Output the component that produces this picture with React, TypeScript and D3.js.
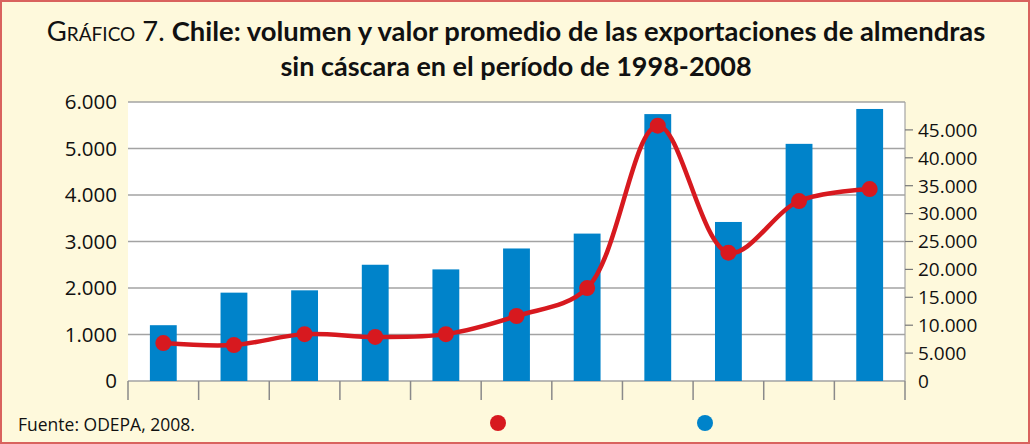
import React from 'react';
import * as d3 from 'd3';

// Chile: almond export volume (bars, left axis) and average value (line, right axis)
const years = ['1998', '1999', '2000', '2001', '2002', '2003', '2004', '2005', '2006', '2007', '2008'];
const volumen = [1200, 1900, 1950, 2500, 2400, 2850, 3170, 5740, 3420, 5100, 5850];
const valor = [6800, 6450, 8400, 7900, 8400, 11650, 16650, 45750, 23000, 32250, 34400];
const leftTicks = [0, 1000, 2000, 3000, 4000, 5000, 6000];
const rightTicks = [0, 5000, 10000, 15000, 20000, 25000, 30000, 35000, 40000, 45000];

const W = 1030;
const H = 444;
const plot = { left: 128, right: 905, top: 102, bottom: 381 };

const locale = d3.formatLocale({ decimal: ',', thousands: '.', grouping: [3], currency: ['$', ''] });
const fmt = locale.format(',');

const BLUE = '#0083ca';
const RED = '#d7191f';
const GRID = '#a3a3a3';
const FONT = '"Open Sans", sans-serif';

export default function App() {
  const x = d3.scaleBand().domain(years).range([plot.left, plot.right]);
  const yL = d3.scaleLinear().domain([0, 6000]).range([plot.bottom, plot.top]);
  const yR = d3.scaleLinear().domain([0, 50000]).range([plot.bottom, plot.top]);
  const barW = x.bandwidth() * 0.38;
  const cx = (d: string) => (x(d) as number) + x.bandwidth() / 2;

  const line = d3
    .line<number>()
    .x((_, i) => cx(years[i]))
    .y((d) => yR(d))
    .curve(d3.curveCatmullRom);

  // category separators under the axis
  const bounds = years.map((d) => x(d) as number).concat([plot.right]);

  return (
    <svg width={W} height={H} style={{ position: 'absolute', left: 0, top: 0 }}>
      <rect x={1} y={1} width={W - 2} height={H - 2} fill="#fef9dc" stroke="#d9635e" strokeWidth={2} />

      <text x={516} y={41} textAnchor="middle" fontFamily="Lato, sans-serif" fontSize={27.4} fill="#111">
        <tspan style={{ fontVariant: 'small-caps' }}>Gráfico 7. </tspan>
        <tspan fontWeight="bold">Chile: volumen y valor promedio de las exportaciones de almendras</tspan>
      </text>
      <text x={516} y={76} textAnchor="middle" fontFamily="Lato, sans-serif" fontSize={27} fontWeight="bold" fill="#111">
        sin cáscara en el período de 1998-2008
      </text>

      <rect x={plot.left} y={plot.top} width={plot.right - plot.left} height={plot.bottom - plot.top} fill="#fff" />

      {leftTicks.map((t) => (
        <line key={'g' + t} x1={plot.left} x2={plot.right} y1={yL(t)} y2={yL(t)} stroke={GRID} strokeWidth={1.5} />
      ))}
      <line x1={plot.right} x2={plot.right} y1={plot.top} y2={plot.bottom} stroke={GRID} strokeWidth={1.2} />

      {years.map((d, i) => (
        <rect key={d} x={cx(d) - barW / 2} y={yL(volumen[i])} width={barW} height={plot.bottom - yL(volumen[i])} fill={BLUE} />
      ))}

      {bounds.map((b, i) => (
        <line key={'c' + i} x1={b} x2={b} y1={plot.bottom} y2={plot.bottom + 19} stroke="#8a8a8a" strokeWidth={1.5} />
      ))}

      {leftTicks.map((t) => (
        <text key={'l' + t} x={117} y={yL(t)} dy="0.36em" textAnchor="end" fontFamily={FONT} fontSize={20.5} fill="#111">
          {fmt(t)}
        </text>
      ))}

      {rightTicks.map((t) => (
        <g key={'r' + t}>
          {t > 0 && <line x1={plot.right} x2={plot.right + 8} y1={yR(t)} y2={yR(t)} stroke="#777" strokeWidth={1.2} />}
          <text x={918} y={yR(t)} dy="0.36em" fontFamily={FONT} fontSize={19} fill="#111">
            {fmt(t)}
          </text>
        </g>
      ))}

      <path d={line(valor) || ''} fill="none" stroke={RED} strokeWidth={4.5} />
      {valor.map((v, i) => (
        <circle key={'p' + i} cx={cx(years[i])} cy={yR(v)} r={8} fill={RED} />
      ))}

      <text x={18} y={431} fontFamily={FONT} fontSize={17.5} fill="#111">
        Fuente: ODEPA, 2008.
      </text>
      <circle cx={498} cy={423} r={8} fill={RED} />
      <circle cx={705} cy={423} r={8} fill={BLUE} />
    </svg>
  );
}
